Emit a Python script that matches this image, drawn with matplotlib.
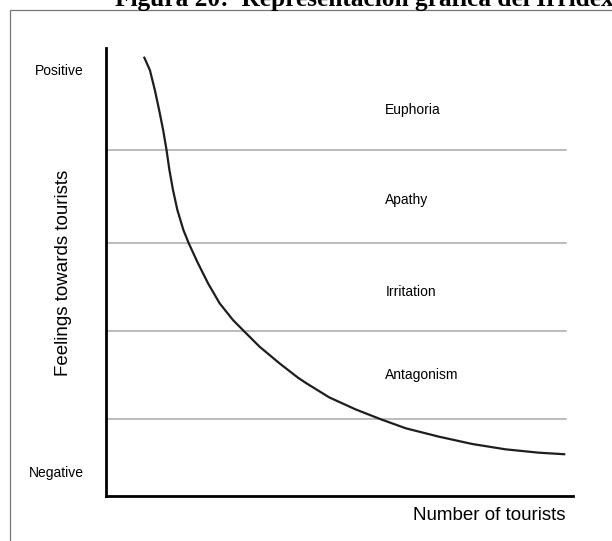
import matplotlib
matplotlib.use('Agg')
import matplotlib.pyplot as plt
from matplotlib.patches import Rectangle

# curve (0-100 units on both axes)
curve_x = [8.14, 9.42, 10.49, 11.41, 12.27, 13.00, 13.62, 14.39, 15.33, 16.62, 17.77, 19.76, 21.91, 24.41,
           27.26, 29.76, 32.98, 37.26, 41.18, 42.98, 47.97, 53.68, 59.04, 64.39, 71.52, 78.65, 85.80, 92.93, 98.65]
curve_y = [98.06, 95.09, 90.63, 86.16, 81.70, 77.23, 72.77, 68.30, 63.84, 59.38, 56.41, 51.94, 47.48, 43.01,
           39.29, 36.67, 33.33, 29.62, 26.45, 25.20, 22.00, 19.30, 17.12, 15.11, 13.24, 11.61, 10.42, 9.67, 9.31]
band_lines = [77.2, 56.5, 36.8, 17.2]
band_labels = ['Euphoria', 'Apathy', 'Irritation', 'Antagonism']
band_label_y = [86.2, 66.1, 45.5, 27.0]
title = 'Figura 20:  Representación gráfica del Irridex'
xlabel = 'Number of tourists'
ylabel = 'Feelings towards tourists'

W, H = 612, 541
fig = plt.figure(figsize=(W/100, H/100), dpi=100)
plt.rcParams['font.family'] = ['Liberation Sans', 'DejaVu Sans']

# outer frame of the figure box
fig.patches.append(Rectangle((10/W, -0.05), 1.2, 1 - 10/H + 0.05, transform=fig.transFigure,
                             fill=False, edgecolor='#777777', linewidth=0.9))
fig.text(115/W, 1 - 6/H, title, family='Liberation Serif', fontweight='bold', fontsize=18.3,
         ha='left', va='baseline')

ax = fig.add_axes([106/W, 1 - 496/H, 467/W, 448/H])
ax.set_xlim(0, 100.3); ax.set_ylim(0, 100)
for s in ['top', 'right']: ax.spines[s].set_visible(False)
for s in ['left', 'bottom']: ax.spines[s].set_linewidth(2.0); ax.spines[s].set_color('black')
ax.set_xticks([]); ax.set_yticks([])

for y in band_lines:
    ax.plot([0, 98.9], [y, y], color='#aaaaaa', lw=1.1, zorder=1)
ax.plot(curve_x, curve_y, color='#1e1e1e', lw=1.6, zorder=2, solid_joinstyle='round', solid_capstyle='butt')
for lab, y in zip(band_labels, band_label_y):
    ax.text(60, y, lab, fontsize=10, ha='left', va='center')

fig.text(84/W, 1 - 71/H, 'Positive', fontsize=10, ha='right', va='center')
fig.text(84/W, 1 - 473/H, 'Negative', fontsize=10, ha='right', va='center')
fig.text(63/W, 1 - 273/H, ylabel, fontsize=13.5, rotation=90, ha='center', va='center')
fig.text(489/W, 1 - 515/H, xlabel, fontsize=13.5, ha='center', va='center')

fig.savefig('out.png', dpi=100)
